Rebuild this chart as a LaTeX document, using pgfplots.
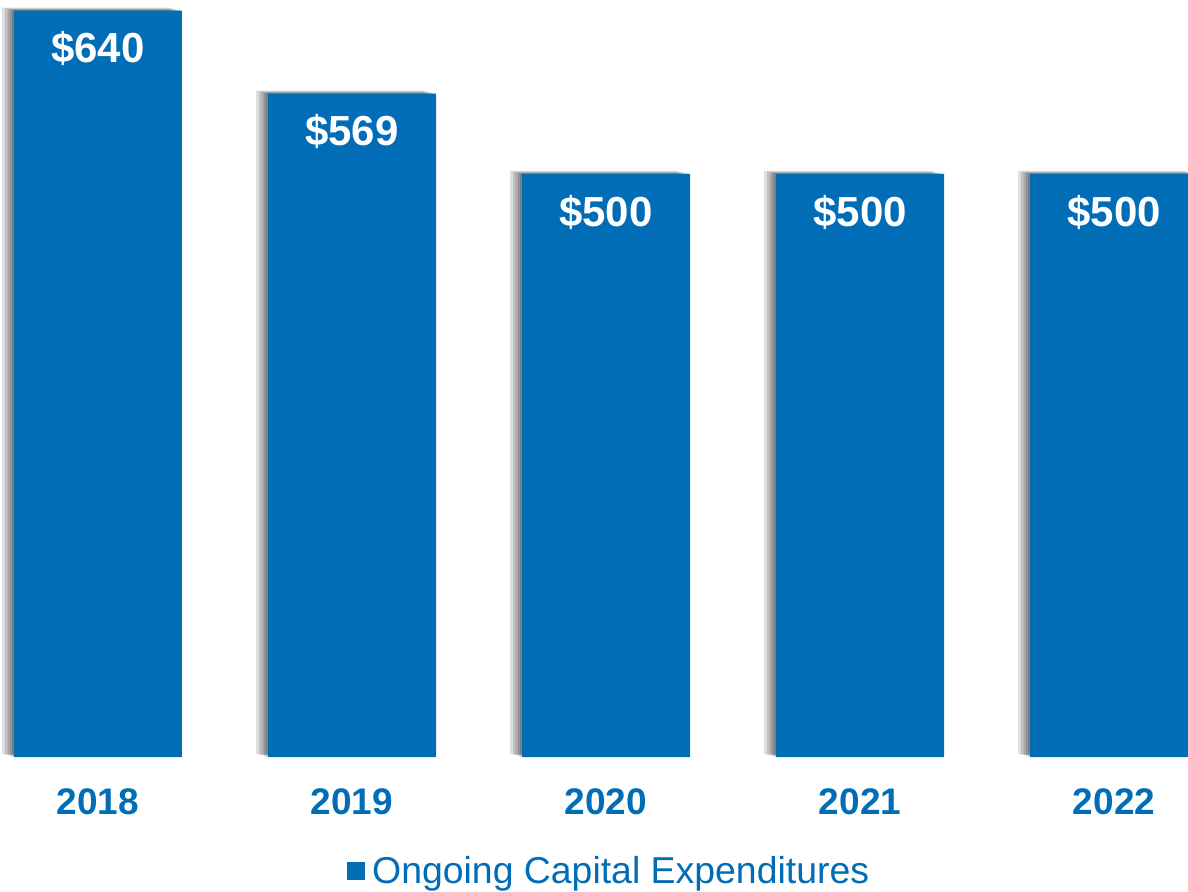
\documentclass[border=0pt]{standalone}
\usepackage{pgfplots}
\pgfplotsset{compat=1.18}
\usepackage{fontspec}
\setmainfont{Liberation Sans}
\definecolor{barblue}{HTML}{006DB6}
\tikzset{sh/.style={preaction={fill=black, fill opacity=0.13, transform canvas={xshift=#1, yshift=0.25*#1*-1}}}}
\begin{document}
\begin{tikzpicture}
\begin{axis}[
  at={(0,0)}, anchor=south west,
  scale only axis,
  width=594pt, height=378.5pt,
  xmin=-0.3858, xmax=4.2913,
  ymin=0, ymax=649.2,
  ybar, bar width=84pt, bar shift=0pt,
  axis line style={draw=none},
  ymajorticks=false,
  major tick length=0pt,
  xtick=data,
  xticklabels={2018,2019,2020,2021,2022},
  xticklabel style={anchor=center, yshift=-22.5pt, text=barblue, font=\fontsize{18.5}{20}\selectfont\bfseries},
  /pgf/number format/assume math mode=true,
  legend style={at={(0.5147,-0.1506)}, anchor=center, draw=none, fill=none,
    font=\fontsize{18.7}{20}\selectfont, text=barblue, inner sep=0pt},
  legend cell align=left,
  legend image code/.code={\fill[barblue] (0pt,-4.6pt) rectangle (9.2pt,4.6pt);},
  legend style={nodes={inner xsep=3.6pt}},
]
\addplot[forget plot, fill=none, draw=none, sh=-1pt, sh=-2pt, sh=-3.2pt, sh=-4.5pt, sh=-6pt]
  coordinates {(0,640) (1,569) (2,500) (3,500) (4,500)};
\addplot[fill=barblue, draw=none,
  nodes near coords={\$\pgfmathprintnumber{\pgfplotspointmeta}},
  every node near coord/.append style={anchor=center, yshift=-19pt, text=white, font=\fontsize{21}{24}\selectfont\bfseries}]
  coordinates {(0,640) (1,569) (2,500) (3,500) (4,500)};
\addlegendentry{Ongoing Capital Expenditures}
\end{axis}
\pgfresetboundingbox
\path (0,-67pt) rectangle (594pt,378.5pt);
\end{tikzpicture}
\end{document}
